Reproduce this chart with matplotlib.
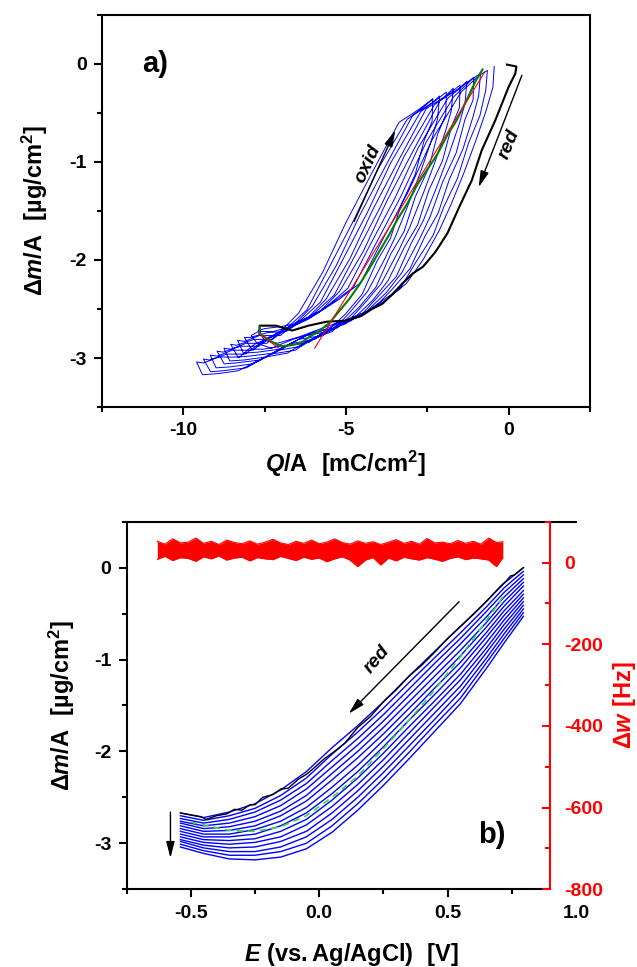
#!/usr/bin/env python3
"""
EQCM figure: a) mass change vs. charge, b) mass change / damping vs. potential
"""
import matplotlib
matplotlib.use("Agg")
import matplotlib.pyplot as plt
from matplotlib.ticker import MultipleLocator, FixedLocator

# ── data: panel a (Δm/A vs Q/A) ─────────────────────────────────
# first reduction (black)
a_black_q = [-0.05, 0.24, 0.21, 0.00, -0.41, -0.82, -1.13, -1.50, -1.88, -2.25, -2.63,
             -2.95, -3.26, -3.60, -3.89, -4.20, -4.52, -5.02, -5.60, -6.15, -6.65,
             -7.15, -7.65, -7.65]
a_black_m = [-0.01, -0.03, -0.10, -0.24, -0.58, -0.88, -1.19, -1.45, -1.73, -1.92, -2.07,
             -2.14, -2.24, -2.36, -2.45, -2.50, -2.57, -2.62, -2.63, -2.67, -2.72,
             -2.67, -2.67, -2.75]
# first oxidation (green)
a_green_q = [-7.65, -7.65, -7.30, -7.00, -6.70, -6.40, -6.10, -5.80, -5.50, -5.20, -4.90,
             -4.60, -4.30, -4.00, -3.70, -3.40, -3.10, -2.80, -2.50, -2.20, -1.90,
             -1.60, -1.30, -1.00, -0.80]
a_green_m = [-2.68, -2.75, -2.83, -2.88, -2.87, -2.85, -2.78, -2.72, -2.64, -2.52, -2.40,
             -2.26, -2.10, -1.93, -1.76, -1.58, -1.42, -1.23, -1.08, -0.93, -0.74,
             -0.58, -0.38, -0.17, -0.06]
# linear fit segments (red)
a_fit1_q = [-7.67, -7.06]
a_fit1_m = [-2.75, -2.90]
a_fit2_q = [-5.96, -0.72]
a_fit2_m = [-2.90, -0.08]
# following cycles (blue), one row per cycle: reduction branch, then oxidation branch
a_cycle_q = [
    [-0.44, -0.48, -0.69, -1.00, -1.38, -1.76, -2.13, -2.63, -3.14, -3.76, -4.39, -4.89, -5.60, -6.40,
     -7.10, -7.50, -7.70, -7.50, -7.00, -6.40, -5.90, -5.20, -4.54, -3.85, -3.09, -2.34, -1.46, -0.90],
    [-0.65, -0.70, -0.88, -1.23, -1.57, -1.99, -2.32, -2.86, -3.33, -3.99, -4.58, -5.12, -5.79, -6.63,
     -7.29, -7.73, -7.91, -7.69, -7.23, -6.59, -6.13, -5.39, -4.77, -4.04, -3.32, -2.53, -1.69, -1.09],
    [-0.86, -0.92, -1.09, -1.40, -1.82, -2.16, -2.57, -3.03, -3.58, -4.16, -4.83, -5.29, -6.04, -6.80,
     -7.54, -7.90, -8.12, -7.94, -7.40, -6.84, -6.30, -5.64, -4.94, -4.29, -3.49, -2.78, -1.86, -1.34],
    [-1.07, -1.09, -1.34, -1.61, -2.03, -2.41, -2.74, -3.28, -3.75, -4.41, -5.00, -5.54, -6.21, -7.05,
     -7.71, -8.15, -8.33, -8.11, -7.65, -7.01, -6.55, -5.81, -5.19, -4.46, -3.74, -2.95, -2.11, -1.51],
    [-1.28, -1.34, -1.51, -1.86, -2.20, -2.62, -2.99, -3.45, -4.00, -4.58, -5.25, -5.71, -6.46, -7.22,
     -7.96, -8.32, -8.54, -8.36, -7.82, -7.26, -6.72, -6.06, -5.36, -4.71, -3.91, -3.20, -2.28, -1.76],
    [-1.49, -1.51, -1.76, -2.03, -2.45, -2.79, -3.20, -3.70, -4.17, -4.83, -5.42, -5.96, -6.63, -7.47,
     -8.13, -8.57, -8.75, -8.53, -8.07, -7.43, -6.97, -6.23, -5.61, -4.88, -4.16, -3.37, -2.53, -1.93],
    [-1.70, -1.76, -1.93, -2.28, -2.62, -3.04, -3.37, -3.91, -4.42, -5.00, -5.67, -6.13, -6.88, -7.64,
     -8.38, -8.74, -8.96, -8.78, -8.24, -7.68, -7.14, -6.48, -5.78, -5.13, -4.33, -3.62, -2.70, -2.18],
    [-1.91, -1.93, -2.18, -2.45, -2.87, -3.21, -3.62, -4.08, -4.59, -5.25, -5.84, -6.38, -7.05, -7.89,
     -8.55, -8.99, -9.17, -8.95, -8.49, -7.85, -7.39, -6.65, -6.03, -5.30, -4.58, -3.79, -2.95, -2.35],
    [-2.12, -2.18, -2.35, -2.70, -3.04, -3.46, -3.79, -4.33, -4.84, -5.42, -6.09, -6.55, -7.30, -8.06,
     -8.80, -9.16, -9.38, -9.20, -8.66, -8.10, -7.56, -6.90, -6.20, -5.55, -4.75, -4.04, -3.12, -2.60],
    [-2.33, -2.35, -2.60, -2.87, -3.29, -3.63, -4.04, -4.50, -5.01, -5.67, -6.26, -6.80, -7.47, -8.31,
     -8.97, -9.41, -9.59, -9.37, -8.91, -8.27, -7.81, -7.07, -6.45, -5.72, -5.00, -4.21, -3.37, -2.77, -2.33],
]
a_cycle_m = [
    [-0.03, -0.24, -0.48, -0.78, -1.12, -1.43, -1.70, -2.00, -2.24, -2.41, -2.53, -2.60, -2.68, -2.78,
     -2.85, -2.82, -2.72, -2.70, -2.68, -2.64, -2.55, -2.40, -2.23, -1.78, -1.31, -0.77, -0.29, -0.12],
    [-0.07, -0.27, -0.53, -0.81, -1.17, -1.46, -1.75, -2.03, -2.29, -2.44, -2.58, -2.63, -2.73, -2.81,
     -2.90, -2.85, -2.77, -2.73, -2.73, -2.67, -2.60, -2.43, -2.28, -1.81, -1.36, -0.80, -0.34, -0.15],
    [-0.10, -0.33, -0.54, -0.87, -1.18, -1.52, -1.76, -2.09, -2.30, -2.50, -2.59, -2.69, -2.74, -2.87,
     -2.91, -2.91, -2.79, -2.79, -2.74, -2.73, -2.61, -2.49, -2.29, -1.87, -1.37, -0.86, -0.35, -0.21],
    [-0.14, -0.37, -0.57, -0.91, -1.21, -1.56, -1.79, -2.13, -2.33, -2.54, -2.62, -2.73, -2.77, -2.91,
     -2.94, -2.95, -2.82, -2.83, -2.77, -2.77, -2.64, -2.53, -2.32, -1.91, -1.40, -0.90, -0.38, -0.25],
    [-0.18, -0.41, -0.61, -0.95, -1.25, -1.60, -1.83, -2.17, -2.37, -2.58, -2.66, -2.77, -2.81, -2.95,
     -2.98, -2.99, -2.86, -2.87, -2.81, -2.81, -2.68, -2.57, -2.36, -1.95, -1.44, -0.94, -0.42, -0.29],
    [-0.22, -0.45, -0.65, -0.99, -1.29, -1.64, -1.87, -2.21, -2.41, -2.62, -2.70, -2.81, -2.85, -2.99,
     -3.02, -3.03, -2.90, -2.91, -2.85, -2.85, -2.72, -2.61, -2.40, -1.99, -1.48, -0.98, -0.46, -0.33],
    [-0.25, -0.48, -0.68, -1.02, -1.32, -1.67, -1.90, -2.24, -2.44, -2.65, -2.73, -2.84, -2.88, -3.02,
     -3.05, -3.06, -2.93, -2.94, -2.88, -2.88, -2.75, -2.64, -2.43, -2.02, -1.51, -1.01, -0.49, -0.36],
    [-0.29, -0.52, -0.72, -1.06, -1.36, -1.71, -1.94, -2.28, -2.48, -2.69, -2.77, -2.88, -2.92, -3.06,
     -3.09, -3.10, -2.97, -2.98, -2.92, -2.92, -2.79, -2.68, -2.47, -2.06, -1.55, -1.05, -0.53, -0.40],
    [-0.33, -0.56, -0.76, -1.10, -1.40, -1.75, -1.98, -2.32, -2.52, -2.73, -2.81, -2.92, -2.96, -3.10,
     -3.13, -3.14, -3.01, -3.02, -2.96, -2.96, -2.83, -2.72, -2.51, -2.10, -1.59, -1.09, -0.57, -0.44],
    [-0.36, -0.59, -0.79, -1.13, -1.43, -1.78, -2.01, -2.35, -2.55, -2.76, -2.84, -2.95, -2.99, -3.13,
     -3.16, -3.17, -3.04, -3.05, -2.99, -2.99, -2.86, -2.75, -2.54, -2.13, -1.62, -1.12, -0.60, -0.47, -0.36],
]

# ── data: panel b (Δm/A and Δw vs E) ─────────────────────────────
b_E = [-0.54, -0.45, -0.35, -0.25, -0.15, -0.05, 0.05, 0.15, 0.25, 0.35, 0.45, 0.55, 0.65, 0.72, 0.795]
b_cycle_m = [
    [-2.67, -2.72, -2.66, -2.57, -2.42, -2.22, -1.96, -1.72, -1.46, -1.18, -0.91, -0.64, -0.37, -0.17, 0.00],
    [-2.70, -2.75, -2.70, -2.62, -2.48, -2.29, -2.03, -1.79, -1.53, -1.25, -0.98, -0.71, -0.43, -0.22, -0.04],
    [-2.73, -2.78, -2.74, -2.66, -2.53, -2.35, -2.10, -1.86, -1.60, -1.32, -1.04, -0.77, -0.48, -0.27, -0.08],
    [-2.76, -2.81, -2.78, -2.71, -2.59, -2.41, -2.17, -1.93, -1.67, -1.39, -1.11, -0.83, -0.54, -0.32, -0.12],
    [-2.78, -2.84, -2.82, -2.76, -2.65, -2.48, -2.24, -2.00, -1.74, -1.46, -1.18, -0.90, -0.60, -0.37, -0.16],
    [-2.81, -2.87, -2.86, -2.81, -2.70, -2.54, -2.31, -2.07, -1.81, -1.53, -1.25, -0.96, -0.65, -0.42, -0.20],
    [-2.84, -2.90, -2.90, -2.85, -2.76, -2.61, -2.39, -2.15, -1.88, -1.60, -1.31, -1.03, -0.71, -0.47, -0.25],
    [-2.87, -2.93, -2.93, -2.90, -2.81, -2.67, -2.46, -2.22, -1.95, -1.66, -1.38, -1.09, -0.76, -0.52, -0.29],
    [-2.90, -2.96, -2.97, -2.95, -2.87, -2.74, -2.53, -2.29, -2.02, -1.73, -1.45, -1.16, -0.82, -0.57, -0.33],
    [-2.93, -2.99, -3.01, -2.99, -2.93, -2.80, -2.60, -2.36, -2.09, -1.80, -1.51, -1.22, -0.88, -0.62, -0.37],
    [-2.96, -3.02, -3.05, -3.04, -2.98, -2.87, -2.67, -2.43, -2.16, -1.87, -1.58, -1.29, -0.93, -0.67, -0.41],
    [-2.98, -3.05, -3.09, -3.09, -3.04, -2.93, -2.74, -2.50, -2.23, -1.94, -1.65, -1.35, -0.99, -0.72, -0.45],
    [-3.01, -3.08, -3.13, -3.13, -3.09, -3.00, -2.81, -2.57, -2.30, -2.01, -1.71, -1.42, -1.04, -0.77, -0.49],
    [-3.04, -3.11, -3.17, -3.18, -3.15, -3.06, -2.88, -2.64, -2.37, -2.08, -1.78, -1.48, -1.10, -0.82, -0.53],
]
# first scan (black, noisy) and one highlighted cycle (green dashed)
b_black_E = [-0.54, -0.50, -0.46, -0.44, -0.40, -0.36, -0.33, -0.30, -0.27, -0.25, -0.22, -0.18,
             -0.15, -0.12, -0.08, -0.05, -0.02, 0.02, 0.06, 0.10, 0.15, 0.20, 0.25, 0.30,
             0.35, 0.40, 0.45, 0.50, 0.55, 0.60, 0.65, 0.70, 0.73, 0.745, 0.76, 0.795]
b_black_m = [-2.67, -2.69, -2.71, -2.74, -2.70, -2.68, -2.63, -2.64, -2.58, -2.58, -2.50, -2.47,
             -2.41, -2.40, -2.30, -2.25, -2.18, -2.08, -2.00, -1.91, -1.74, -1.62, -1.46, -1.33,
             -1.18, -1.06, -0.92, -0.77, -0.64, -0.51, -0.37, -0.22, -0.14, -0.09, -0.08, 0.00]
b_green_E = [-0.50, -0.45, -0.35, -0.25, -0.15, -0.05, 0.05, 0.15, 0.25, 0.35, 0.45, 0.55, 0.65, 0.72]
b_green_m = [-2.77, -2.80, -2.86, -2.87, -2.82, -2.70, -2.50, -2.27, -1.97, -1.66, -1.33, -0.97, -0.58, -0.30]
# damping shift Δw [Hz]: envelope of the overlapping noisy traces
w_E = [-0.63, -0.60, -0.57, -0.54, -0.51, -0.48, -0.45, -0.42, -0.39, -0.36, -0.33, -0.30,
       -0.27, -0.24, -0.21, -0.18, -0.15, -0.12, -0.09, -0.06, -0.03, 0.00, 0.03, 0.06,
       0.09, 0.12, 0.15, 0.18, 0.21, 0.24, 0.27, 0.30, 0.33, 0.36, 0.39, 0.42, 0.45, 0.48,
       0.51, 0.54, 0.57, 0.60, 0.63, 0.66, 0.69, 0.715]
w_upper = [52, 45, 58, 48, 50, 60, 47, 52, 44, 55, 49, 46, 53, 45, 50, 57, 48, 44, 52, 47, 55, 46, 50,
           58, 49, 45, 53, 47, 51, 44, 50, 56, 47, 52, 45, 59, 48, 50, 46, 54, 47, 52, 45, 60, 49, 51]
w_lower = [8, 15, 5, 12, 10, 3, 14, 9, 16, 6, 11, 13, 4, 12, 9, 7, 15, 10, 5, 13, 8, 11, 2,
           9, 14, 6, -10, 6, 12, -6, 11, 4, 13, 9, 6, 12, 8, 3, 10, 14, 7, 11, 9, 6, -10, 12]

# axis labels (mathtext so the italic symbols and the bold text mix)
LABEL_M = r"$\mathrm{Δ}\mathit{m}\mathrm{/A\ \ [µg/cm}^{2}\mathrm{]}$"
LABEL_Q = r"$\mathit{Q}\mathrm{/A\ \ [mC/cm}^{2}\mathrm{]}$"
LABEL_E = r"$\mathit{E}\mathrm{\ (vs.Ag/AgCl)\ \ [V]}$"
LABEL_W = r"$\mathrm{Δ}\mathit{w}\mathrm{\ [Hz]}$"

# ── style ─────────────────────────────────────────────────────────
plt.rcParams.update({
    "font.family": ["Liberation Sans", "DejaVu Sans"],
    "font.weight": "bold",
    "font.size": 14,
    "mathtext.fontset": "custom",
    "mathtext.rm": "Liberation Sans:bold",
    "mathtext.it": "Liberation Sans:italic:bold",
    "mathtext.bf": "Liberation Sans:bold",
    "axes.linewidth": 1.5,
    "axes.unicode_minus": False,
})

fig = plt.figure(figsize=(6.37, 9.67), dpi=100)


def style_axes(ax):
    ax.tick_params(which="both", direction="out", width=1.5, top=False, right=False,
                   labelsize=14, pad=5)
    ax.tick_params(which="major", length=6)
    ax.tick_params(which="minor", length=3.5)


arrow_kw = dict(arrowstyle="-|>,head_length=0.7,head_width=0.18", color="black", lw=1.0,
                shrinkA=0, shrinkB=0)

# ── panel a ──────────────────────────────────────────────────────
ax1 = fig.add_axes([0.160, 0.579, 0.766, 0.406])
blue_q = [v for row in a_cycle_q for v in row]
blue_m = [v for row in a_cycle_m for v in row]
ax1.plot(blue_q, blue_m, color="blue", lw=0.7)
ax1.plot(a_black_q, a_black_m, color="black", lw=1.5)
ax1.plot(a_green_q, a_green_m, color="#008000", lw=1.5)
ax1.plot(a_fit1_q, a_fit1_m, color="red", lw=0.8)
ax1.plot(a_fit2_q, a_fit2_m, color="red", lw=0.8)

ax1.set_xlim(-12.5, 2.5)
ax1.set_ylim(-3.5, 0.5)
ax1.xaxis.set_major_locator(FixedLocator([-10, -5, 0]))
ax1.xaxis.set_minor_locator(MultipleLocator(2.5))
ax1.yaxis.set_major_locator(FixedLocator([-3, -2, -1, 0]))
ax1.yaxis.set_minor_locator(MultipleLocator(0.5))
style_axes(ax1)
ax1.set_xlabel(LABEL_Q, fontsize=17, labelpad=7)
ax1.set_ylabel(LABEL_M, fontsize=17, labelpad=14)

ax1.text(-10.85, 0.0, "a)", fontsize=21, ha="center", va="center")
ax1.annotate("", xy=(-3.48, -0.68), xytext=(-4.75, -1.61), arrowprops=arrow_kw)
ax1.text(-4.33, -1.02, "oxid", fontsize=14, style="italic", rotation=65,
         ha="center", va="center")
ax1.annotate("", xy=(-0.92, -1.26), xytext=(0.41, -0.12), arrowprops=arrow_kw)
ax1.text(0.02, -0.82, "red", fontsize=14, style="italic", rotation=68,
         ha="center", va="center")

# ── panel b ──────────────────────────────────────────────────────
ax2 = fig.add_axes([0.1986, 0.0804, 0.7057, 0.3801])
for row in b_cycle_m:
    ax2.plot(b_E, row, color="blue", lw=1.0)
ax2.plot(b_black_E, b_black_m, color="black", lw=1.0)
ax2.plot(b_green_E, b_green_m, color="#33dd33", lw=1.2, ls=(0, (4, 3)))

ax2.set_xlim(-0.75, 1.0)
ax2.set_ylim(-3.5, 0.5)
ax2.xaxis.set_major_locator(FixedLocator([-0.5, 0.0, 0.5, 1.0]))
ax2.xaxis.set_minor_locator(MultipleLocator(0.25))
ax2.yaxis.set_major_locator(FixedLocator([-3, -2, -1, 0]))
ax2.yaxis.set_minor_locator(MultipleLocator(0.5))
ax2.xaxis.set_major_formatter(plt.FuncFormatter(lambda v, p: f"{v:.1f}"))
style_axes(ax2)
ax2.spines["right"].set_visible(False)
ax2.spines["bottom"].set_bounds(-0.75, 0.9)
ax2.xaxis.get_major_ticks()[-1].tick1line.set_visible(False)
ax2.set_xlabel(LABEL_E, fontsize=17, labelpad=14)
ax2.set_ylabel(LABEL_M, fontsize=17, labelpad=12)

ax2.text(0.673, -2.91, "b)", fontsize=21, ha="center", va="center")
ax2.annotate("", xy=(0.115, -1.59), xytext=(0.545, -0.37), arrowprops=arrow_kw)
ax2.text(0.225, -1.0, "red", fontsize=14, style="italic", rotation=50,
         ha="center", va="center")
ax2.annotate("", xy=(-0.579, -3.16), xytext=(-0.579, -2.66), arrowprops=arrow_kw)

# Δw on the red right axis
ax3 = ax2.twinx()
ax3.fill_between(w_E, w_lower, w_upper, color="red", lw=0)
ax3.plot(w_E, w_upper, color="red", lw=0.8)
ax3.plot(w_E, w_lower, color="red", lw=0.8)
ax3.set_ylim(-800, 100)
ax3.yaxis.set_major_locator(FixedLocator([-800, -600, -400, -200, 0]))
ax3.yaxis.set_minor_locator(MultipleLocator(100))
for side in ("top", "left", "bottom"):
    ax3.spines[side].set_visible(False)
ax3.spines["right"].set_position(("axes", 1.65 / 1.75))
ax3.spines["right"].set_color("red")
ax3.spines["right"].set_linewidth(1.5)
ax3.tick_params(which="both", direction="in", width=1.5, colors="red",
                labelsize=14, pad=10)
ax3.tick_params(which="major", length=6)
ax3.tick_params(which="minor", length=3.5)
ax3.set_ylabel(LABEL_W, color="red", fontsize=17, labelpad=6)

fig.savefig("out.png", dpi=100)
